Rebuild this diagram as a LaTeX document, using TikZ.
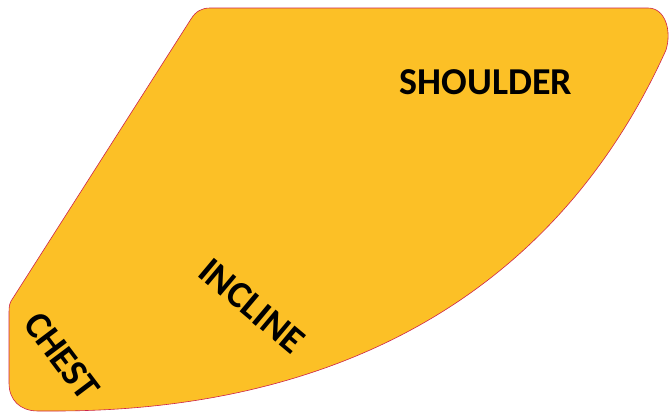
\documentclass[tikz,border=0pt]{standalone}
\usepackage{fontspec}
\setmainfont{Carlito}
\definecolor{zonefill}{RGB}{252,192,38}
\definecolor{zoneedge}{RGB}{205,35,75}

\begin{document}
\begin{tikzpicture}[x=1pt, y=-1pt,
    zone/.style={fill=zonefill, draw=zoneedge, line width=0.6pt},
    label/.style={font=\fontsize{38}{38}\selectfont\bfseries, inner sep=0pt}
]
\useasboundingbox (0,0) rectangle (670,413);

% Outline of the fan
\coordinate (tl) at (210,8);
\coordinate (tr) at (648,8);
\coordinate (rt) at (666,50);
\coordinate (bt) at (55,411);
\coordinate (bl) at (9,383);
\coordinate (lt) at (9,312);

\draw[zone] (tl) -- (tr)
    .. controls (665,8) and (672,30) .. (rt)
    .. controls (555,296) and (335,411) .. (bt)
    -- (38,411) .. controls (20,411) and (9,400) .. (bl)
    -- (lt) .. controls (9,305) and (10,302) .. (13,298)
    -- (191,19) .. controls (196,11) and (202,8) .. (tl) -- cycle;

% Region labels
\node[label] (shoulder) at (486,82) {SHOULDER};
\node[label, rotate=-40] (incline) at (252,306) {INCLINE};
\node[label, rotate=-53] (chest) at (62,356) {CHEST};

\end{tikzpicture}
\end{document}
